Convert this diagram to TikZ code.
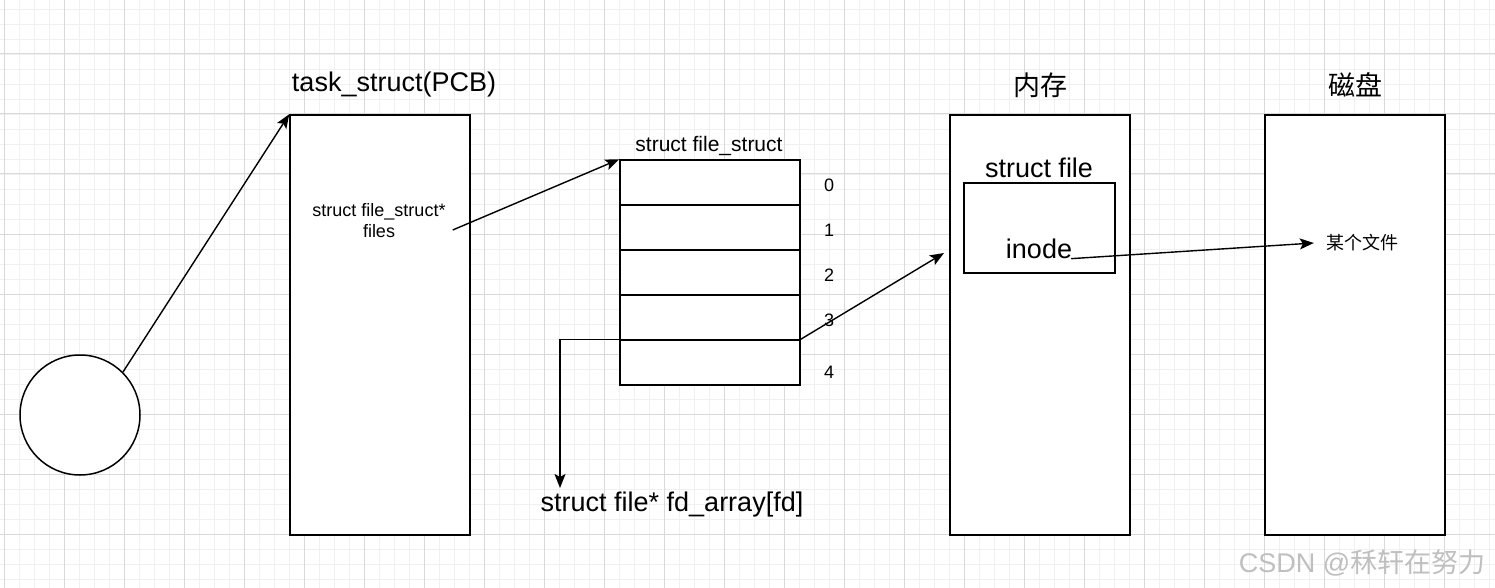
\documentclass[tikz,border=0pt]{standalone}
\usepackage{fontspec}
\setmainfont{Liberation Sans}
\newfontfamily\cjk{Noto Sans CJK SC}
\usetikzlibrary{arrows.meta}
\begin{document}
\begin{tikzpicture}[x=1pt,y=-1pt,
  big/.style={font=\fontsize{27}{32}\selectfont, inner sep=2pt},
  small/.style={font=\fontsize{18}{21}\selectfont, inner sep=2pt, align=center},
  mid/.style={font=\fontsize{21}{25}\selectfont, inner sep=2pt},
  box/.style={draw=black, line width=1.5pt, fill=white, inner sep=0pt},
  arr/.style={line width=1.4pt, -{Stealth[length=14pt,width=11pt,inset=3pt]}},
  ln/.style={line width=1.4pt}
]
\useasboundingbox (0,0) rectangle (1495,588);
\fill[white] (0,0) rectangle (1495,588);
% grid
\foreach \x in {4,19,...,1495} \draw[line width=0.8pt, black!6] (\x,0) -- (\x,588);
\foreach \y in {9,24,...,588} \draw[line width=0.8pt, black!6] (0,\y) -- (1495,\y);
\foreach \x in {4,64,...,1495} \draw[line width=1pt, black!15] (\x,0) -- (\x,588);
\foreach \y in {54,114,...,588} \draw[line width=1pt, black!15] (0,\y) -- (1495,\y);

% circle
\node[box, circle, minimum size=120pt] (circ) at (80,415) {};
% PCB
\node[box, minimum width=180pt, minimum height=420pt] (pcb) at (380,325) {};
\node[big] (pcbt) at (394,85) {task\_struct(PCB)};
\node[small] (files) at (379,221) {struct file\_struct*\\files};
% file_struct table
\foreach \i in {0,...,4} {
  \node[box, minimum width=180pt, minimum height=45pt] (r\i) at (710,{182.5+45*\i}) {};
}
\node[mid] (fst) at (709,146) {struct file\_struct};
\node[small] (n0) at (829,185) {0};
\node[small] (n1) at (829,230) {1};
\node[small] (n2) at (829,275) {2};
\node[small] (n3) at (829,320) {3};
\node[small] (n4) at (829,372) {4};
\node[big] (fd) at (672,505) {struct file* fd\_array[fd]};
% memory
\node[box, minimum width=180pt, minimum height=420pt] (mem) at (1040,325) {};
\node[big] (memt) at (1040,85) {\cjk 内存};
\node[box, minimum width=151pt, minimum height=90pt] (sfile) at (1039.5,228) {};
\node[big] (sft) at (1039,168) {struct file};
\node[big] (inode) at (1039,249) {inode};
% disk
\node[box, minimum width=180pt, minimum height=420pt] (disk) at (1355,325) {};
\node[big] (diskt) at (1355,85) {\cjk 磁盘};
\node[small] (dfile) at (1362,243) {\cjk 某个文件};

% connectors
\coordinate (memtip) at (944,253);
\coordinate (fdtip) at (560,488);
\draw[arr] (circ.45) -- (pcb.north west);
\draw[arr] ([xshift=5pt,yshift=-9pt]files.east) -- (r0.north west);
\draw[arr] (r4.north east) -- (memtip);
\draw[arr] (r4.north east) -| (fdtip);
\draw[arr] ([xshift=-3pt]inode.base east) -- ([xshift=-10pt]dfile.west);

% watermark
\node[font=\fontsize{27}{32}\selectfont, text=black!25] (wm) at (1362,563) {CSDN @{\cjk 秝轩在努力}};
\end{tikzpicture}
\end{document}
